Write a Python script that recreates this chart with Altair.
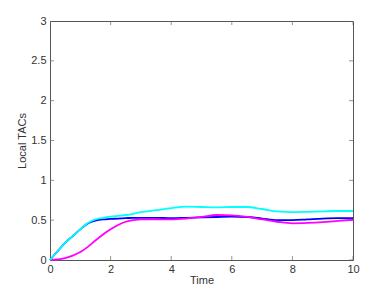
import altair as alt
import pandas as pd

time = [0, 0.25, 0.5, 0.75, 1, 1.25, 1.5, 1.75, 2, 2.25, 2.5, 2.75, 3, 3.5, 4, 4.5, 5, 5.5, 6, 6.5, 7, 7.5, 8, 8.5, 9, 9.5, 10]
cyan_vals = [0, 0.11, 0.215, 0.30, 0.385, 0.465, 0.51, 0.53, 0.545, 0.555, 0.565, 0.58, 0.60, 0.625, 0.65, 0.67, 0.665, 0.66, 0.665, 0.665, 0.64, 0.61, 0.60, 0.605, 0.61, 0.615, 0.615]
blue_vals = [0, 0.11, 0.215, 0.30, 0.385, 0.46, 0.495, 0.51, 0.515, 0.52, 0.525, 0.53, 0.53, 0.53, 0.525, 0.53, 0.535, 0.54, 0.545, 0.54, 0.52, 0.50, 0.50, 0.51, 0.52, 0.525, 0.525]
magenta_vals = [0, 0.008, 0.025, 0.055, 0.10, 0.165, 0.245, 0.32, 0.385, 0.44, 0.48, 0.50, 0.51, 0.51, 0.51, 0.52, 0.54, 0.565, 0.56, 0.54, 0.51, 0.48, 0.46, 0.465, 0.475, 0.49, 0.505]

x_ticks = [0, 2, 4, 6, 8, 10]
y_ticks = [0, 0.5, 1, 1.5, 2, 2.5, 3]

FONT = "Liberation Sans"
xscale = alt.Scale(domain=[0, 10], nice=False, zero=False)
yscale = alt.Scale(domain=[0, 3], nice=False, zero=False)

xaxis = alt.Axis(values=x_ticks, title="Time", grid=False, tickSize=0, domain=False,
                 labelFont=FONT, labelFontSize=11, labelColor="#333", labelPadding=3,
                 titleFont=FONT, titleFontSize=11, titleFontWeight="normal", titleColor="#333",
                 titlePadding=0, labelFlush=False, labelOverlap=False, format="~r")
yaxis = alt.Axis(values=y_ticks, title="Local TACs", grid=False, tickSize=0, domain=False,
                 labelFont=FONT, labelFontSize=11, labelColor="#333", labelPadding=4,
                 titleFont=FONT, titleFontSize=11, titleFontWeight="normal", titleColor="#333",
                 titlePadding=3, labelFlush=False, labelOverlap=False, format="~r")


def line(vals, color):
    df = pd.DataFrame({"t": time, "v": vals})
    return alt.Chart(df).mark_line(color=color, strokeWidth=1.8, interpolate="monotone").encode(
        x=alt.X("t:Q", scale=xscale, axis=xaxis),
        y=alt.Y("v:Q", scale=yscale, axis=yaxis),
    )


xt = pd.DataFrame({"t": x_ticks})
yt = pd.DataFrame({"v": y_ticks})
tick_color = "#666"
tk = dict(size=8, clip=True, color=tick_color, thickness=1)
xticks_bottom = alt.Chart(xt).mark_tick(orient="vertical", **tk).encode(
    x=alt.X("t:Q", scale=xscale, axis=xaxis), y=alt.YDatum(0, scale=yscale, axis=yaxis))
xticks_top = alt.Chart(xt).mark_tick(orient="vertical", **tk).encode(
    x=alt.X("t:Q", scale=xscale, axis=xaxis), y=alt.YDatum(3, scale=yscale, axis=yaxis))
yticks_left = alt.Chart(yt).mark_tick(orient="horizontal", **tk).encode(
    y=alt.Y("v:Q", scale=yscale, axis=yaxis), x=alt.XDatum(0, scale=xscale, axis=xaxis))
yticks_right = alt.Chart(yt).mark_tick(orient="horizontal", **tk).encode(
    y=alt.Y("v:Q", scale=yscale, axis=yaxis), x=alt.XDatum(10, scale=xscale, axis=xaxis))

chart = alt.layer(
    xticks_bottom, xticks_top, yticks_left, yticks_right,
    line(blue_vals, "#0000FF"),
    line(magenta_vals, "#FF00FF"),
    line(cyan_vals, "#00FFFF"),
).properties(
    width=303, height=239,
    autosize=alt.AutoSizeParams(type="none"),
    padding={"left": 42, "top": 13, "right": 20, "bottom": 25},
    background="white",
).configure_view(stroke="#555", strokeWidth=1)

chart.save("out.html", embed_options={"renderer": "svg", "actions": False})
